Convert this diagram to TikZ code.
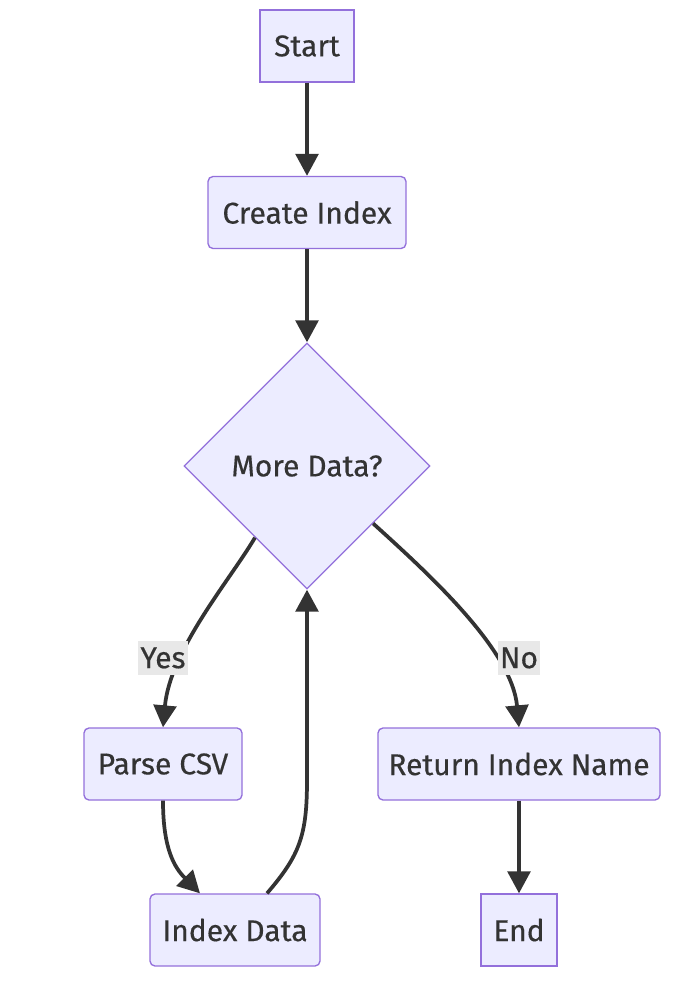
\documentclass[tikz,border=0pt]{standalone}
\usepackage{fontspec}
\setmainfont{Fira Sans}[FakeBold=0.4]
\usetikzlibrary{shapes.geometric,arrows.meta}
\definecolor{nodefill}{HTML}{ECECFF}
\definecolor{nodeline}{HTML}{9370DB}
\definecolor{edgecol}{HTML}{333333}
\definecolor{labelfill}{HTML}{E8E8E8}
\definecolor{textcol}{HTML}{333333}

\begin{document}
\begin{tikzpicture}[x=0.75pt,y=0.75pt,yscale=-1,
  box/.style={draw=nodeline, fill=nodefill, line width=1pt, text=textcol, font=\fontsize{22.5}{26}\selectfont, minimum height=54pt, inner sep=0pt},
  rbox/.style={box, rounded corners=3.75pt},
  decision/.style={box, diamond, aspect=1, minimum width=184.5pt, minimum height=184.5pt},
  edgelabel/.style={fill=labelfill, text=textcol, font=\fontsize{22.5}{26}\selectfont, inner sep=1.5pt, minimum height=25pt},
  flow/.style={draw=edgecol, line width=2.8pt, -{Triangle[length=16.5pt,width=17pt]}}
]
\useasboundingbox (0,0) rectangle (673,982);

% Nodes
\node [box, minimum width=70.5pt] (start) at (307,46) {Start};
\node [rbox, minimum width=148.5pt] (create) at (307,212.5) {Create Index};
\node [decision] (more) at (307,466) {More Data?};
\node [rbox, minimum width=118.5pt] (parse) at (163,764) {Parse CSV};
\node [rbox, minimum width=127.5pt] (index) at (235,930) {Index Data};
\node [rbox, minimum width=211.5pt] (ret) at (519,764) {Return Index Name};
\node [box, minimum width=57pt] (end) at (519,930) {End};

% Edges
\draw [flow] (start) -- (create);
\draw [flow] (create) -- (more);
\draw [flow] (more.234) .. controls (230,580) and (170,650) .. (parse.north);
\draw [flow] (more.-41) .. controls (430,575) and (512,650) .. (ret.north);
\draw [flow] (parse.south) .. controls (163,850) and (175,868) .. ([xshift=-26.25pt]index.north);
\draw [flow] ([xshift=24pt]index.north) .. controls (300,855) and (307,835) .. (307,780) -- (more.south);
\draw [flow] (ret) -- (end);

% Edge labels
\node [edgelabel] (yes) at (163,658) {Yes};
\node [edgelabel] (no) at (519,658) {No};

\end{tikzpicture}
\end{document}
